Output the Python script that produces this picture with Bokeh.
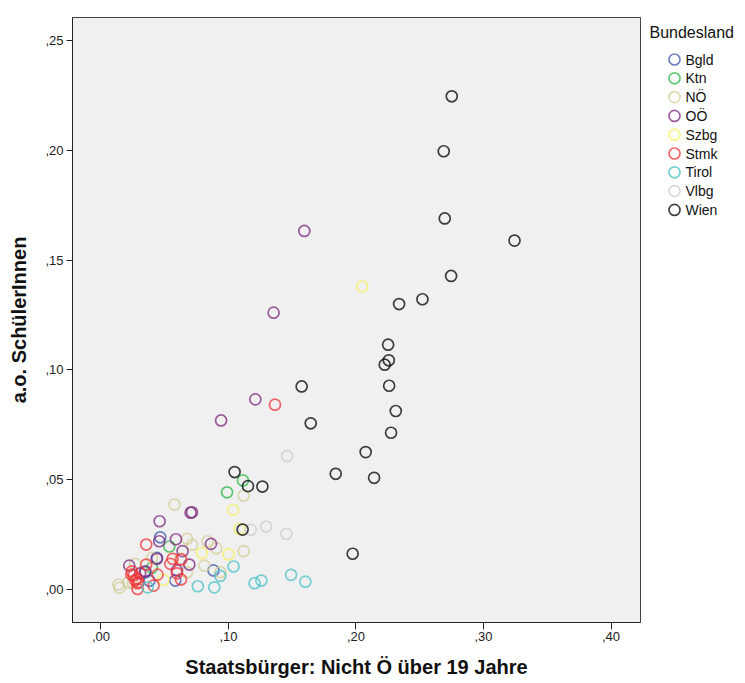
from bokeh.plotting import figure
from bokeh.models import FixedTicker, CustomJSTickFormatter, Range1d
from bokeh.layouts import row
from bokeh.core.properties import value
from bokeh.embed import file_html
from bokeh.resources import INLINE

states = ["Bgld", "Ktn", "NÖ", "OÖ", "Szbg", "Stmk", "Tirol", "Vlbg", "Wien"]
colors = ["#3E58AC", "#2EB848", "#D3CE97", "#7C287D", "#F5F060", "#EF3338", "#48C2C5", "#CCCCCC", "#000000"]
legend_title = "Bundesland"

bgld_x = [0.0465, 0.0439, 0.0348, 0.0380, 0.0583, 0.0883]
bgld_y = [0.0238, 0.0144, 0.0079, 0.0040, 0.0041, 0.0087]

ktn_x = [0.1114, 0.0989, 0.0536, 0.0400]
ktn_y = [0.0497, 0.0443, 0.0196, 0.0099]

noe_x = [0.1119, 0.0577, 0.0675, 0.0714, 0.0836, 0.0905, 0.1119, 0.0400, 0.0269,
         0.0811, 0.0936, 0.0138, 0.0146, 0.0251, 0.0622, 0.0675, 0.0215]
noe_y = [0.0428, 0.0387, 0.0231, 0.0204, 0.0220, 0.0188, 0.0175, 0.0144, 0.0117,
         0.0109, 0.0079, 0.0023, 0.0008, 0.0029, 0.0140, 0.0079, 0.0033]

ooe_x = [0.1595, 0.1354, 0.1211, 0.0942, 0.0714, 0.0703, 0.0460, 0.0457, 0.0588,
         0.0863, 0.0640, 0.0439, 0.0693, 0.0222, 0.0596, 0.0348, 0.0308]
ooe_y = [0.1633, 0.1261, 0.0866, 0.0770, 0.0352, 0.0350, 0.0311, 0.0220, 0.0229,
         0.0208, 0.0175, 0.0140, 0.0114, 0.0109, 0.0087, 0.0083, 0.0074]

szbg_x = [0.2048, 0.1036, 0.1085, 0.0792, 0.1001, 0.0491]
szbg_y = [0.1380, 0.0363, 0.0277, 0.0167, 0.0160, 0.0044]

stmk_x = [0.1365, 0.0355, 0.0562, 0.0630, 0.0355, 0.0544, 0.0596, 0.0444, 0.0628,
          0.0243, 0.0256, 0.0269, 0.0282, 0.0287, 0.0287, 0.0413, 0.0238, 0.0295]
stmk_y = [0.0842, 0.0205, 0.0140, 0.0137, 0.0114, 0.0117, 0.0074, 0.0068, 0.0046,
          0.0083, 0.0064, 0.0041, 0.0049, 0.0029, 0.0003, 0.0018, 0.0068, 0.0033]

tirol_x = [0.1603, 0.1491, 0.1258, 0.1205, 0.1040, 0.0936, 0.0889, 0.0760, 0.0366]
tirol_y = [0.0036, 0.0067, 0.0041, 0.0029, 0.0105, 0.0062, 0.0010, 0.0015, 0.0010]

vlbg_x = [0.1459, 0.1175, 0.1295, 0.1454]
vlbg_y = [0.0608, 0.0272, 0.0287, 0.0254]

wien_x = [0.2751, 0.2688, 0.2696, 0.3243, 0.2746, 0.2521, 0.2338, 0.2252, 0.2257,
          0.2225, 0.2260, 0.1574, 0.2312, 0.2275, 0.1645, 0.2076, 0.1841, 0.2142,
          0.1974, 0.1048, 0.1153, 0.1266, 0.1111]
wien_y = [0.2246, 0.1996, 0.1690, 0.1589, 0.1428, 0.1322, 0.1300, 0.1115, 0.1044,
          0.1024, 0.0928, 0.0925, 0.0813, 0.0714, 0.0757, 0.0626, 0.0527, 0.0509,
          0.0163, 0.0535, 0.0471, 0.0469, 0.0273]

xs = [bgld_x, ktn_x, noe_x, ooe_x, szbg_x, stmk_x, tirol_x, vlbg_x, wien_x]
ys = [bgld_y, ktn_y, noe_y, ooe_y, szbg_y, stmk_y, tirol_y, vlbg_y, wien_y]

y_ticks = [0.0, 0.05, 0.10, 0.15, 0.20, 0.25]
x_ticks = [0.0, 0.10, 0.20, 0.30, 0.40]

FONT = "Liberation Sans"

# ---------------- main scatter ----------------
p = figure(width=641, height=683, x_range=Range1d(-0.0223, 0.4231), y_range=Range1d(-0.0150, 0.2605),
           output_backend="svg", toolbar_location=None, title=None,
           min_border_left=72, min_border_right=1, min_border_top=17, min_border_bottom=61)

p.background_fill_color = "#F0F0F0"
p.border_fill_color = "white"
p.outline_line_color = "#444444"
p.outline_line_width = 1
p.xgrid.visible = False
p.ygrid.visible = False

fmt = CustomJSTickFormatter(code="return ',' + tick.toFixed(2).split('.')[1];")

p.xaxis.ticker = FixedTicker(ticks=x_ticks)
p.yaxis.ticker = FixedTicker(ticks=y_ticks)
for ax in (p.xaxis[0], p.yaxis[0]):
    ax.formatter = fmt
    ax.minor_tick_line_color = None
    ax.major_tick_in = 0
    ax.axis_line_color = "#222222"
    ax.major_tick_line_color = "#222222"
    ax.major_label_text_font = FONT
    ax.major_label_text_font_size = "13px"
    ax.major_label_text_color = "#222222"
    ax.axis_label_text_font = FONT
    ax.axis_label_text_font_size = "20px"
    ax.axis_label_text_font_style = "bold"
    ax.axis_label_text_color = "#111111"

p.xaxis.major_tick_out = 7
p.yaxis.major_tick_out = 6
p.xaxis.major_label_standoff = 2
p.yaxis.major_label_standoff = 3
p.xaxis.axis_label = "Staatsbürger: Nicht Ö über 19 Jahre"
p.yaxis.axis_label = "a.o. SchülerInnen"
p.xaxis.axis_label_standoff = 12
p.yaxis.axis_label_standoff = 12

for c, x, y in zip(colors, xs, ys):
    p.scatter(x=x, y=y, marker="circle", size=11, fill_color=None,
              line_color=c, line_width=1.7, line_alpha=0.75)

# ---------------- legend panel ----------------
# the row aligns this panel's frame with the main frame (rows 17..622 px),
# so its y range is set to match those pixel rows
leg = figure(width=104, height=683, x_range=Range1d(0, 104), y_range=Range1d(622, 17),
             output_backend="svg", toolbar_location=None, title=None,
             x_axis_location=None, y_axis_location=None,
             min_border_left=0, min_border_right=0, min_border_top=17, min_border_bottom=61)
leg.grid.visible = False
leg.outline_line_color = None
leg.background_fill_color = "white"
leg.border_fill_color = "white"

row_y = [59 + 18.8 * i for i in range(len(states))]
leg.scatter(x=[33] * len(states), y=row_y, marker="circle", size=11, fill_color=None,
            line_color=colors, line_width=1.7, line_alpha=0.75)
leg.text(x=[44] * len(states), y=row_y, text=states, text_font=value(FONT),
         text_font_size="14px", text_baseline="middle", text_color="#111111")
leg.text(x=[8], y=[32], text=[legend_title], text_font=value(FONT),
         text_font_size="16px", text_baseline="middle", text_color="#111111")

layout = row(p, leg, spacing=0)
open("out.html", "w").write(file_html(layout, INLINE))
